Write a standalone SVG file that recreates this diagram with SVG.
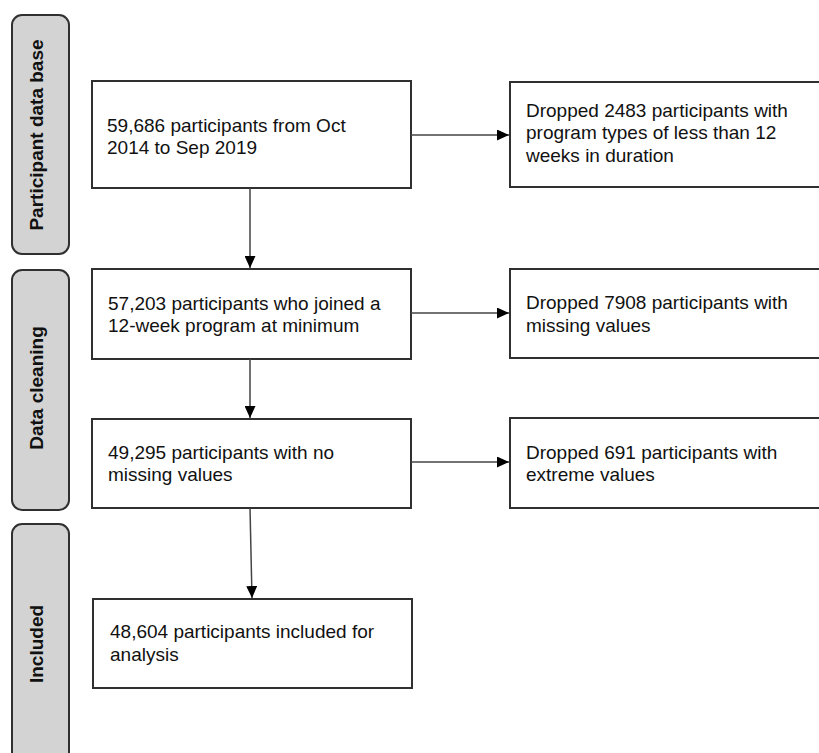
<svg xmlns="http://www.w3.org/2000/svg" width="819" height="753" viewBox="0 0 819 753">
<defs>
<marker id="ah" viewBox="0 0 12 11" refX="12" refY="5.5" markerWidth="12" markerHeight="11" markerUnits="userSpaceOnUse" orient="auto">
<path d="M0,0 L12,5.5 L0,11 Z" fill="#000"/>
</marker>
<style>
.panel{fill:#d3d3d3;stroke:#303030;stroke-width:2}
.box{fill:#fff;stroke:#303030;stroke-width:2}
.lbl{font-family:"Liberation Sans",Arial,sans-serif;font-size:19px;font-weight:bold;fill:#111;text-anchor:middle}
.t{font-family:"Liberation Sans",Arial,sans-serif;font-size:19px;fill:#111}
.c{stroke:#444;stroke-width:1.5;fill:none;marker-end:url(#ah)}
</style>
</defs>
<rect width="819" height="753" fill="#fff"/>
<g id="panel-participant">
<rect class="panel" x="12" y="15" width="57" height="239" rx="10"/>
<text class="lbl" transform="translate(43,135) rotate(-90)">Participant data base</text>
</g>
<g id="panel-cleaning">
<rect class="panel" x="12" y="270" width="57" height="240" rx="10"/>
<text class="lbl" transform="translate(43,388) rotate(-90)">Data cleaning</text>
</g>
<g id="panel-included">
<rect class="panel" x="12" y="524" width="57" height="260" rx="10"/>
<text class="lbl" transform="translate(43,644) rotate(-90)">Included</text>
</g>
<g id="box1">
<rect class="box" x="92" y="81" width="319" height="107"/>
<text class="t" x="107" y="132">59,686 participants from Oct</text>
<text class="t" x="107" y="154">2014 to Sep 2019</text>
</g>
<g id="drop1">
<rect class="box" x="510" y="82" width="320" height="105"/>
<text class="t" x="526" y="117">Dropped 2483 participants with</text>
<text class="t" x="526" y="139">program types of less than 12</text>
<text class="t" x="526" y="162">weeks in duration</text>
</g>
<g id="box2">
<rect class="box" x="92" y="269" width="319" height="90"/>
<text class="t" x="108" y="310">57,203 participants who joined a</text>
<text class="t" x="108" y="332">12-week program at minimum</text>
</g>
<g id="drop2">
<rect class="box" x="510" y="269" width="320" height="89"/>
<text class="t" x="526" y="309">Dropped 7908 participants with</text>
<text class="t" x="526" y="332">missing values</text>
</g>
<g id="box3">
<rect class="box" x="92" y="419" width="319" height="89"/>
<text class="t" x="108" y="459">49,295 participants with no</text>
<text class="t" x="108" y="481">missing values</text>
</g>
<g id="drop3">
<rect class="box" x="510" y="418" width="320" height="90"/>
<text class="t" x="526" y="459">Dropped 691 participants with</text>
<text class="t" x="526" y="481">extreme values</text>
</g>
<g id="box4">
<rect class="box" x="93" y="599" width="319" height="89"/>
<text class="t" x="110" y="638">48,604 participants included for</text>
<text class="t" x="110" y="661">analysis</text>
</g>
<g id="connectors">
<line class="c" x1="250" y1="188" x2="250" y2="268"/>
<line class="c" x1="250" y1="359" x2="250" y2="418"/>
<line class="c" x1="250" y1="508" x2="252" y2="598"/>
<line class="c" x1="411" y1="135" x2="509" y2="135"/>
<line class="c" x1="411" y1="313" x2="509" y2="313"/>
<line class="c" x1="411" y1="462" x2="509" y2="462"/>
</g>
</svg>
